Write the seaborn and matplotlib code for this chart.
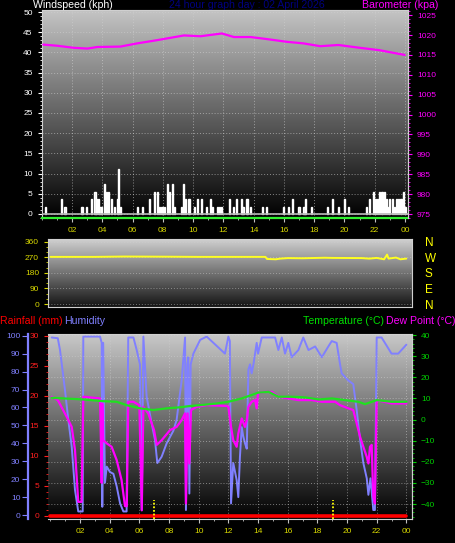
import numpy as np
import seaborn as sns
import matplotlib.pyplot as plt
from matplotlib.colors import LinearSegmentedColormap
from matplotlib.ticker import MultipleLocator

# ---- data ----
# windspeed spikes (hour, kph)
wind_hours = [0.22, 1.32, 1.54, 2.62, 2.7, 2.97, 3.3, 3.52, 3.63, 3.74, 3.85, 3.96,
              4.18, 4.29, 4.4, 4.62, 4.84, 5.0, 5.1, 5.2, 6.36, 6.67, 7.15, 7.48, 7.63,
              7.8, 7.9, 8.0, 8.1, 8.3, 8.47, 8.64, 8.8, 9.24, 9.39, 9.5, 9.68, 9.79,
              10.1, 10.27, 10.56, 10.9, 11.15, 11.3, 11.6, 11.75, 11.9, 12.43, 12.65,
              12.87, 13.2, 13.3, 13.5, 13.62, 13.8, 14.6, 14.85, 16.0, 16.3, 16.6, 17.0,
              17.33, 17.45, 17.8, 18.9, 19.2, 19.58, 20.0, 20.24, 21.45, 21.67, 21.9,
              22.07, 22.2, 22.3, 22.42, 22.54, 22.65, 22.77, 22.9, 23.0, 23.2, 23.3,
              23.42, 23.55, 23.68, 23.8, 23.93, 24.05]
wind_kph = [1.6, 3.6, 1.6, 1.6, 1.6, 1.6, 3.6, 5.4, 3.6, 3.6, 1.6, 1.6,
            7.4, 5.4, 5.4, 3.6, 1.6, 3.6, 11.2, 1.6, 1.6, 1.6, 3.6, 5.4, 5.4,
            1.6, 1.6, 1.6, 1.6, 7.4, 5.4, 7.4, 1.6, 1.6, 7.4, 3.6, 3.6, 3.6,
            1.6, 3.6, 3.6, 1.6, 3.6, 1.6, 1.6, 1.6, 1.6, 3.6, 1.6,
            3.6, 3.6, 1.6, 3.6, 3.6, 1.6, 1.6, 1.6, 1.6, 1.6, 3.6, 1.6,
            1.6, 3.6, 1.6, 1.6, 3.6, 1.6, 3.6, 1.6, 1.6, 3.6, 5.4,
            3.6, 3.6, 5.4, 5.4, 5.4, 5.4, 3.6, 1.6, 3.6, 3.6, 1.6,
            3.6, 3.6, 3.6, 3.6, 5.4, 1.6]

baro_hours = [0.1, 1.05, 2.1, 3.02, 3.68, 5.2, 6.3, 7.6, 9.4, 10.5, 11.9, 12.7,
              13.8, 14.85, 16.2, 17.3, 18.4, 19.6, 21.0, 22.3, 23.98]
baro_hpa = [1017.6, 1017.3, 1016.8, 1016.6, 1017.0, 1017.1, 1017.9, 1018.7, 1019.9,
            1019.7, 1020.4, 1019.5, 1019.5, 1019.0, 1018.3, 1017.9, 1017.2, 1017.5,
            1016.8, 1016.2, 1015.0]

dir_hours = [0.0, 3.0, 5.0, 8.0, 10.0, 12.0, 14.5, 14.6, 15.2, 15.5, 16.0, 17.0, 18.5,
             19.0, 21.0, 21.5, 22.0, 22.5, 22.7, 22.8, 23.3, 23.6, 24.0]
dir_deg = [272, 272, 274, 273, 272, 272, 272, 260, 258, 262, 265, 264, 267,
           266, 265, 262, 266, 258, 285, 262, 268, 258, 262]

hum_hours = [0.09, 0.5, 0.65, 0.98, 1.21, 1.44, 1.66, 1.88, 2.18, 2.22, 3.35, 3.46, 3.5,
             3.56, 3.68, 3.8, 4.02, 4.25, 4.47, 4.7, 4.92, 5.14, 5.25, 5.6, 5.82, 6.04,
             6.16, 6.27, 6.49, 6.83, 7.05, 7.21, 7.5, 7.84, 8.29, 8.51, 8.85, 9.08, 9.14,
             9.24, 9.3, 9.37, 9.46, 9.64, 10.1, 10.54, 11.77, 12.0, 12.1, 12.18, 12.33,
             12.56, 12.67, 12.78, 12.9, 13.0, 13.12, 13.24, 13.35, 13.46, 13.57, 13.69,
             13.91, 14.0, 14.25, 15.15, 15.37, 15.6, 15.82, 16.04, 16.27, 16.72, 17.05,
             17.4, 17.85, 18.3, 18.74, 18.97, 19.3, 19.53, 19.64, 20.09, 20.42, 20.65,
             20.88, 21.1, 21.33, 21.44, 21.58, 21.77, 21.88, 22.0, 22.33, 23.0, 23.45,
             24.0]
hum_pct = [99, 98.6, 92, 70, 53, 38, 14, 2, 2, 99.5, 99.5, 96, 4.6,
           96, 18, 27, 24, 23, 16, 6.5, 2, 2, 99, 99, 92, 84,
           2.8, 99.5, 66, 51, 42, 29, 32.5, 40, 47, 53, 75, 99, 2.8,
           84, 88, 12, 84, 90, 97.7, 99.5, 90, 99.5, 97, 6.5, 29,
           19.5, 10, 32.5, 49, 44, 40, 37, 81, 84, 79, 84,
           96, 90, 99, 99, 92, 99, 90, 96, 88, 92, 99,
           92, 94, 88, 94, 97, 96, 84, 79, 75, 73, 58.6,
           42, 29, 20.5, 11.3, 20.5, 2.8, 2.8, 99, 99, 90, 90,
           95]

dew_hours = [0.09, 0.5, 1.1, 1.44, 1.66, 1.88, 2.1, 2.22, 3.35, 3.46, 3.5, 3.56, 3.8,
             4.13, 4.47, 4.8, 5.03, 5.15, 5.25, 5.6, 6.0, 6.16, 6.27, 6.6, 6.99, 7.17,
             7.5, 8.07, 8.51, 8.85, 9.08, 9.14, 9.25, 9.37, 9.48, 9.86, 10.54, 11.9,
             12.0, 12.18, 12.33, 12.56, 12.67, 12.9, 13.12, 13.24, 13.35, 13.57, 13.8,
             13.91, 14.0, 14.48, 14.93, 15.37, 16.04, 16.72, 17.62, 18.3, 19.2, 19.53,
             20.09, 20.42, 20.65, 20.88, 21.1, 21.33, 21.44, 21.55, 21.66, 21.77, 21.88,
             22.0, 23.0, 24.0]
dew_c = [10.8, 9.2, 1.3, -3.5, -14.5, -39, -39, 10.8, 10.0, -30, 7.6, -9.8, -11.3,
         -12.9, -19.2, -28.7, -41, -41, 8.4, 8.4, 6.8, -43, 6.0, 2.9, -5, -12,
         -9.8, -5, -3.5, -0.3, 2.9, -39.8, 2.9, -20.8, 4.5, 6.0, 6.8, 6.4,
         6.0, -3.5, -9.8, -12.9, -6.6, 0.5, -3.5, -0.3, 6.0, 8.4, 9.2,
         5.3, 12.4, 13.1, 13.1, 10.8, 10.0, 9.2, 9.2, 8.4, 8.4, 6.8,
         5.3, 4.5, -1.8, -8.2, -12.9, -17.7, -20.8, -12.9, -12, -36.6, -39.8,
         9.2, 7.6, 7.6]

temp_hours = [0.09, 2.22, 3.56, 4.47, 5.14, 6.04, 6.94, 7.84, 8.74, 9.41, 10.1, 11.22,
              12.0, 12.9, 13.57, 14.0, 14.71, 15.37, 16.27, 17.17, 18.07, 18.97, 19.87,
              20.76, 21.21, 22.0, 23.0, 24.0]
temp_c = [10.3, 9.5, 8.7, 8.4, 6.8, 5.3, 4.5, 5.3, 5.8, 6.4, 6.8, 7.6,
          8.4, 10.0, 11.6, 12.7, 13.1, 10.8, 10.8, 10.5, 9.5, 10.0, 9.2,
          8.4, 7.3, 9.2, 8.4, 8.4]

rain_hours = [0.0, 24.0]
rain_mm = [0.0, 0.0]

sun_hours = [7.0, 19.07]  # sunrise / sunset markers

hour_ticks = list(range(2, 25, 2))
hour_labels = ['%02d' % (h % 24) for h in hour_ticks]

# ---- style ----
sns.set_style('dark')
plt.rcParams['font.family'] = ['Liberation Sans', 'DejaVu Sans']

W, H = 455, 543
YEL = '#d8d800'
MAG = '#ff00ff'
BLU = '#8080ff'
GRN = '#20e020'


def px_rect(l, t, r, b):
    return [l / W, 1 - b / H, (r - l) / W, (b - t) / H]


def gradient(ax, top, bottom):
    cmap = LinearSegmentedColormap.from_list('g', [bottom, top])
    ax.imshow(np.linspace(1, 0, 256).reshape(-1, 1), cmap=cmap, aspect='auto',
              extent=[0, 1, 0, 1], transform=ax.transAxes, zorder=0)


def ftext(x, y, s, **kw):
    fig.text(x / W, 1 - y / H, s, fontsize=7.6, va='center', **kw)


fig = plt.figure(figsize=(4.55, 5.43), dpi=100, facecolor='black')

# ---- top: windspeed + barometer ----
ax_w = fig.add_axes(px_rect(41.7, 10, 408, 218))
gradient(ax_w, '#c4c4c4', '#000000')
ax_w.bar(wind_hours, wind_kph, width=0.07, color='#e4e4e4', zorder=3)
ax_w.axhline(0, color='#b8b8b8', lw=1.2, zorder=3)
ax_w.set_xlim(0, 24.2)
ax_w.set_ylim(-1, 50.5)
ax_w.set_yticks(range(0, 51, 5))
ax_w.yaxis.set_minor_locator(MultipleLocator(1))
ax_w.set_xticks(hour_ticks)
ax_w.set_xticklabels(hour_labels)
ax_w.xaxis.set_minor_locator(MultipleLocator(1))
ax_w.tick_params(axis='y', which='both', colors='white', labelsize=6, length=3, left=True)
ax_w.tick_params(axis='y', which='minor', length=1.5)
ax_w.tick_params(axis='x', which='both', colors='#c0c0c0', labelcolor=YEL, labelsize=6,
                 length=3, bottom=True)
ax_w.tick_params(axis='x', which='minor', length=1.5)
ax_w.grid(True, which='major', color='#d0d0d0', linestyle=(0, (1, 2)), lw=0.7, alpha=0.6)
for s in ['left', 'top', 'right']:
    ax_w.spines[s].set_color('#d0d0d0')
ax_w.spines['bottom'].set_color('#30f030')
ax_w.spines['bottom'].set_linewidth(1.6)

ax_p = ax_w.twinx()
sns.lineplot(x=baro_hours, y=baro_hpa, ax=ax_p, color=MAG, lw=1.6,
             estimator=None, sort=False, legend=False)
ax_p.set_ylim(974, 1026.3)
ax_p.set_yticks(range(975, 1026, 5))
ax_p.yaxis.set_minor_locator(MultipleLocator(1))
ax_p.tick_params(axis='y', which='both', colors=MAG, labelsize=6, length=3, right=True)
ax_p.tick_params(axis='y', which='minor', length=1.5)
ax_p.set_xlabel('')
ax_p.set_ylabel('')
for s in ['left', 'top', 'bottom']:
    ax_p.spines[s].set_visible(False)
ax_p.spines['right'].set_color('#d0d0d0')
ax_p.grid(False)

# ---- middle: wind direction ----
ax_d = fig.add_axes(px_rect(48, 239, 412, 307))
gradient(ax_d, '#d0d0d0', '#141414')
sns.lineplot(x=dir_hours, y=dir_deg, ax=ax_d, color='#ffff20', lw=1.4,
             estimator=None, sort=False, legend=False, zorder=3)
ax_d.set_xlim(-0.16, 24.38)
ax_d.set_ylim(-17, 375)
ax_d.set_yticks([0, 90, 180, 270, 360])
ax_d.set_xticks([])
ax_d.yaxis.set_minor_locator(MultipleLocator(30))
ax_d.tick_params(axis='y', which='both', colors=YEL, labelsize=6, length=3, left=True)
ax_d.tick_params(axis='y', which='minor', length=1.5)
ax_d.grid(True, axis='y', color='#d0d0d0', linestyle=(0, (1, 2)), lw=0.7, alpha=0.5)
for s in ax_d.spines.values():
    s.set_color('#d0d0d0')
ax_d.set_xlabel('')
ax_d.set_ylabel('')

ax_d2 = ax_d.twinx()
ax_d2.set_ylim(-17, 375)
ax_d2.set_yticks([0, 90, 180, 270, 360])
ax_d2.set_yticklabels(['N', 'E', 'S', 'W', 'N'])
ax_d2.tick_params(axis='y', colors='#ffff00', labelsize=8.5, length=0, pad=9)
ax_d2.grid(False)
for s in ax_d2.spines.values():
    s.set_visible(False)

# ---- bottom: humidity, rain, temperature, dew point ----
ax_h = fig.add_axes(px_rect(48, 334, 412, 519))
gradient(ax_h, '#c8c8c8', '#000000')
sns.lineplot(x=hum_hours, y=hum_pct, ax=ax_h, color=BLU, lw=1.4,
             estimator=None, sort=False, legend=False, zorder=3)
ax_h.set_xlim(-0.16, 24.38)
ax_h.set_ylim(-2.2, 100.95)
ax_h.set_yticks(range(0, 101, 10))
ax_h.set_xticks(hour_ticks)
ax_h.set_xticklabels(hour_labels)
ax_h.xaxis.set_minor_locator(MultipleLocator(1))
ax_h.tick_params(axis='x', which='both', colors='#c0c0c0', labelcolor=YEL, labelsize=6,
                 length=3, bottom=True)
ax_h.tick_params(axis='x', which='minor', length=1.5)
ax_h.tick_params(axis='y', colors=BLU, labelsize=6, length=4, pad=1.5, left=True)
ax_h.spines['left'].set_position(('outward', 14.4))
ax_h.spines['left'].set_color(BLU)
ax_h.spines['left'].set_linewidth(1.6)
for s in ['top', 'bottom', 'right']:
    ax_h.spines[s].set_color('#d0d0d0')
ax_h.grid(True, axis='x', color='#d0d0d0', linestyle=(0, (1, 2)), lw=0.7, alpha=0.55)
ax_h.grid(False, axis='y')
ax_h.set_xlabel('')
ax_h.set_ylabel('')

ax_r = ax_h.twinx()
ax_r.yaxis.tick_left()
sns.lineplot(x=rain_hours, y=rain_mm, ax=ax_r, color='#ff0000', lw=2.6,
             estimator=None, sort=False, legend=False)
ax_r.vlines(sun_hours, -0.5, 2.6, colors='#ffff00', linestyles=(0, (1, 1)), lw=1.3)
ax_r.set_ylim(-0.55, 30.3)
ax_r.set_yticks(range(0, 31, 5))
ax_r.yaxis.set_minor_locator(MultipleLocator(1))
ax_r.tick_params(axis='y', which='both', colors='#ff2020', labelsize=6, length=3,
                 left=True, right=False)
ax_r.tick_params(axis='y', which='minor', length=1.2)
for s in ax_r.spines.values():
    s.set_visible(False)
ax_r.grid(False)
ax_r.set_xlabel('')
ax_r.set_ylabel('')

ax_t = ax_h.twinx()
ax_t.grid(True, axis='y', color='#d0d0d0', linestyle=(0, (1, 2)), lw=0.7, alpha=0.55)
sns.lineplot(x=dew_hours, y=dew_c, ax=ax_t, color=MAG, lw=1.6,
             estimator=None, sort=False, legend=False)
sns.lineplot(x=temp_hours, y=temp_c, ax=ax_t, color=GRN, lw=1.6,
             estimator=None, sort=False, legend=False)
ax_t.set_ylim(-47.1, 40.5)
ax_t.set_yticks(range(-40, 41, 10))
ax_t.yaxis.set_minor_locator(MultipleLocator(2))
ax_t.tick_params(axis='y', which='both', colors='#00d000', labelsize=6, length=3, right=True)
ax_t.tick_params(axis='y', which='minor', length=1.2)
for s in ['left', 'top', 'bottom']:
    ax_t.spines[s].set_visible(False)
ax_t.spines['right'].set_color('#d0d0d0')
ax_t.set_xlabel('')
ax_t.set_ylabel('')

# ---- header texts ----
ftext(33, 5, 'Windspeed (kph)', color='white', ha='left')
ftext(247, 5, '24 hour graph day : 02 April 2026', color='#000080', ha='center')
ftext(438, 5, 'Barometer (kpa)', color=MAG, ha='right')
ftext(0, 320.5, 'Rainfall (mm)', color='#ff0000', ha='left')
ftext(64, 320.5, 'Humidity', color=BLU, ha='left')
ftext(384, 320.5, 'Temperature (°C)', color='#00e000', ha='right')
ftext(455, 320.5, 'Dew Point (°C)', color=MAG, ha='right')

fig.savefig('out.png', dpi=100, facecolor='black')
